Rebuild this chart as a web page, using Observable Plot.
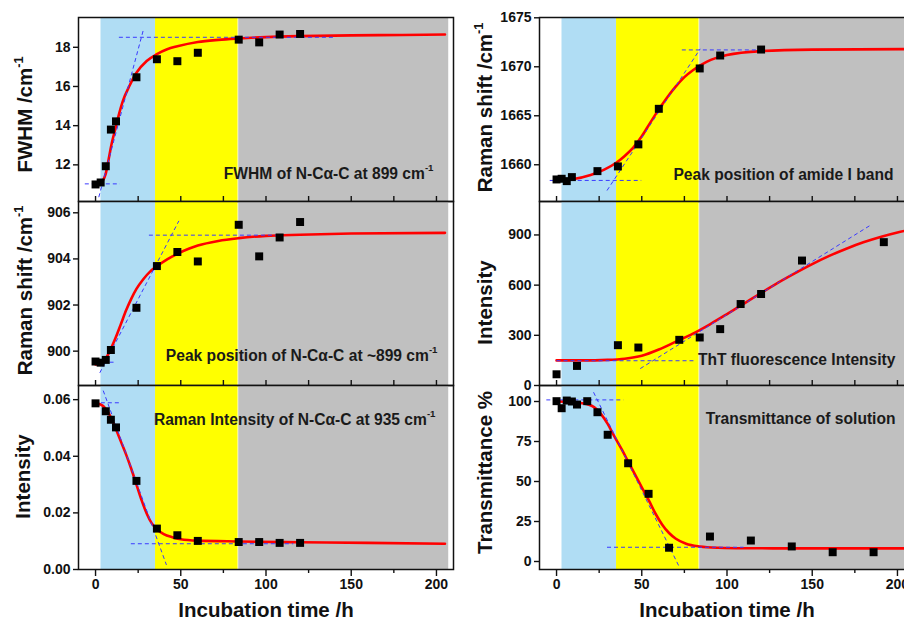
<!DOCTYPE html>
<html>
<head>
<meta charset="utf-8">
<script src="https://cdn.jsdelivr.net/npm/d3@7"></script>
<script src="https://cdn.jsdelivr.net/npm/@observablehq/plot@0.6"></script>
<style>
  html, body { margin: 0; padding: 0; background: white; width: 904px; height: 621px; overflow: hidden; }
  #wrap { position: relative; width: 904px; height: 621px; }
</style>
</head>
<body>
<div id="wrap"></div>
<script>
// ---------- shared ----------
const xTicksMajor = [0, 50, 100, 150, 200];
const xTicksMinor = [25, 75, 125, 175];
const xTicksAll = [0, 25, 50, 75, 100, 125, 150, 175, 200];
const bandStart = [3.2, 35.2, 84.0];
const bandEnd = [35.2, 83.6, 207.2];
const bandColor = ["#b0ddf4", "#ffff00", "#c0c0c0"];
const xTitle = "Incubation time /h";

// ---------- Panel A: FWHM ----------
const fwhmT = [0, 3, 6, 9, 12, 24, 36, 48, 60, 84, 96, 108, 120];
const fwhmV = [11.0, 11.1, 11.93, 13.8, 14.22, 16.47, 17.39, 17.29, 17.72, 18.39, 18.25, 18.65, 18.68];
const fwhmFitT = [0, 2, 4, 6, 7.5, 9.5, 11.5, 13.5, 16, 20, 24, 30, 36, 42, 48, 60, 72, 84, 100, 120, 150, 180, 205];
const fwhmFitV = [10.98, 11.02, 11.15, 11.55, 12.2, 13.1, 13.8, 14.5, 15.25, 16.05, 16.7, 17.3, 17.65, 17.9, 18.05, 18.27, 18.38, 18.45, 18.52, 18.57, 18.61, 18.63, 18.65];
const fwhmGuideT1 = [-6.3, 13.7, 1.9];
const fwhmGuideT2 = [14.3, 141, 28.3];
const fwhmGuideV1 = [11.03, 18.51, 10.35];
const fwhmGuideV2 = [11.03, 18.51, 18.97];
const fwhmTicks = [12, 14, 16, 18];

// ---------- Panel B: Raman shift of N-Ca-C ----------
const shiftT = [0, 3, 6, 9, 24, 36, 48, 60, 84, 96, 108, 120];
const shiftV = [899.55, 899.5, 899.62, 900.05, 901.88, 903.69, 904.3, 903.89, 905.48, 904.11, 904.93, 905.6];
const shiftFitT = [0, 3, 6, 9, 12, 15, 18, 21, 24, 28, 32, 36, 42, 48, 55, 60, 72, 84, 100, 120, 150, 205];
const shiftFitV = [899.42, 899.45, 899.68, 900.1, 900.62, 901.2, 901.78, 902.28, 902.7, 903.12, 903.45, 903.68, 903.98, 904.22, 904.45, 904.58, 904.78, 904.9, 905.0, 905.05, 905.1, 905.13];
const shiftGuideT1 = [0, 31.3, 2.5];
const shiftGuideT2 = [12.3, 109.7, 48.9];
const shiftGuideV1 = [899.52, 905.03, 899.06];
const shiftGuideV2 = [899.52, 905.03, 905.65];
const shiftTicks = [900, 902, 904, 906];

// ---------- Panel C: Raman intensity at 935 ----------
const intT = [0, 6, 9, 12, 24, 36, 48, 60, 84, 96, 108, 120];
const intV = [0.0587, 0.0559, 0.0529, 0.0502, 0.0313, 0.01445, 0.0121, 0.0101, 0.0097, 0.0097, 0.0094, 0.0094];
const intFitT = [0, 3, 6, 9, 12, 15, 18, 21, 24, 27, 30, 33, 36, 40, 45, 50, 60, 84, 120, 160, 205];
const intFitV = [0.0587, 0.0583, 0.0568, 0.0538, 0.0495, 0.045, 0.0405, 0.0355, 0.03, 0.0245, 0.0198, 0.0163, 0.0142, 0.0125, 0.0114, 0.0107, 0.0102, 0.0099, 0.0096, 0.0094, 0.0091];
const intGuideT1 = [-1, 20.7, 4.5];
const intGuideT2 = [14.3, 116, 41.6];
const intGuideV1 = [0.0589, 0.0091, 0.0632];
const intGuideV2 = [0.0589, 0.0091, 0.0016];
const intTicks = [0, 0.02, 0.04, 0.06];

// ---------- Panel D: amide I ----------
const amT = [0, 3, 6, 9, 24, 36, 48, 60, 84, 96, 120];
const amV = [1658.5, 1658.57, 1658.33, 1658.74, 1659.35, 1659.83, 1662.08, 1665.71, 1669.83, 1671.15, 1671.76];
const amFitT = [0, 10, 20, 28, 35, 40, 45, 50, 55, 60, 65, 70, 75, 80, 88, 100, 120, 150, 205];
const amFitV = [1658.45, 1658.55, 1658.95, 1659.5, 1660.2, 1660.9, 1661.75, 1662.9, 1664.3, 1665.65, 1666.9, 1668.0, 1668.95, 1669.65, 1670.5, 1671.2, 1671.6, 1671.75, 1671.8];
const amGuideT1 = [-4, 73.5, 29.6];
const amGuideT2 = [49.7, 120.5, 84.3];
const amGuideV1 = [1658.4, 1671.72, 1657.37];
const amGuideV2 = [1658.4, 1671.72, 1671.83];
const amTicks = [1660, 1665, 1670, 1675];

// ---------- Panel E: ThT fluorescence ----------
const thtT = [0, 12, 36, 48, 72, 84, 96, 108, 120, 144, 192];
const thtV = [67, 117, 241, 227, 273, 287, 337, 487, 547, 747, 857];
const thtFitT = [0, 15, 30, 40, 50, 60, 70, 80, 90, 100, 110, 120, 130, 140, 150, 160, 170, 180, 190, 200, 208];
const thtFitV = [150, 150, 153, 160, 178, 215, 262, 310, 366, 427, 490, 553, 615, 672, 726, 775, 818, 856, 888, 915, 933];
const thtGuideT1 = [0, 49.1];
const thtGuideT2 = [80.3, 184.6];
const thtGuideV1 = [148, 101];
const thtGuideV2 = [148, 961];
const thtTicks = [0, 300, 600, 900];

// ---------- Panel F: Transmittance ----------
const trT = [0, 3, 6, 9, 12, 18, 24, 30, 42, 54, 66, 90, 114, 138, 162, 186];
const trV = [100.2, 95.8, 100.6, 100, 98.1, 100.2, 93.3, 79.2, 61.4, 42.3, 8.6, 15.6, 13.1, 9.4, 5.8, 5.8];
const trFitT = [0, 6, 12, 18, 22, 26, 30, 34, 38, 42, 46, 50, 54, 58, 62, 66, 70, 76, 84, 95, 110, 140, 208];
const trFitV = [100, 99.9, 99.4, 98.3, 96.5, 92.3, 86, 78, 70.5, 62.5, 54.5, 46.4, 38.5, 30, 23, 17.8, 14.2, 11.1, 9.4, 8.6, 8.3, 8.2, 8.2];
const trGuideT1 = [-6, 29.6, 21.7];
const trGuideT2 = [39.3, 109.7, 71.6];
const trGuideV1 = [101, 8.9, 105.8];
const trGuideV2 = [101, 8.9, -2.5];
const trTicks = [0, 25, 50, 75, 100];

// ---------- helpers ----------
const zip = (ts, vs) => ts.map((t, i) => ({t, v: vs[i]}));
const segs = (a1, a2, b1, b2) => a1.map((_, i) => ({x1: a1[i], x2: a2[i], y1: b1[i], y2: b2[i], k: i}));
const FONT = "'Liberation Sans', Arial, Helvetica, sans-serif";
const wrap = document.getElementById("wrap");

function superscript(svg) {
  d3.select(svg).selectAll("text").each(function () {
    const t = this.textContent;
    if (t.includes("⁻¹") && this.children.length === 0) {
      const main = t.replace("⁻¹", "");
      const el = d3.select(this);
      el.text(main);
      el.append("tspan").attr("font-size", "0.62em").attr("dy", "-0.75em").text("-1");
    }
  });
}

function panel(c) {
  const mt = 8, mb = c.bottom ? 60 : 8, ml = 78, mr = 10, fh = 184, fw = 375;
  const bands = bandStart.map((s, i) => ({x1: s, x2: bandEnd[i], fill: bandColor[i]}));
  const marks = [
    ...bands.map(b => Plot.rect([b], {x1: "x1", x2: "x2", fill: b.fill})),
    Plot.line(zip(c.fitT, c.fitV), {x: "t", y: "v", stroke: "#ff0000", strokeWidth: 2.6, curve: "monotone-x"}),
    Plot.link(c.guides, {x1: "x1", x2: "x2", y1: "y1", y2: "y2", stroke: "#3a3aff", strokeWidth: 1, strokeDasharray: "4,3"}),
    Plot.dot(zip(c.t, c.v), {x: "t", y: "v", symbol: "square", r: 4.5, fill: "#000"}),
    Plot.frame({stroke: "#111", strokeWidth: 1.5}),
    Plot.axisY({ticks: c.yTicks, tickFormat: c.yFmt, tickSize: 5, tickPadding: 3, label: null, strokeWidth: 1.4, fontSize: 14}),
    Plot.text([c.yLabel], {text: d => d, frameAnchor: "left", dx: c.yLabelDx, dy: c.yLabelDy, rotate: -90, textAnchor: "middle", lineAnchor: "middle", fontSize: 20.5}),
    Plot.text([c.note], {text: d => d, frameAnchor: c.noteAnchor, dx: c.noteDx, dy: c.noteDy, textAnchor: "end", lineAnchor: "middle", fontSize: 15.6, fill: "#1a1a1a"})
  ];
  if (c.bottom) {
    marks.push(
      Plot.axisX({ticks: xTicksMajor, tickSize: 7, tickPadding: 3, label: null, strokeWidth: 1.4, fontSize: 14}),
      Plot.axisX({ticks: xTicksMinor, tickSize: 4, tickFormat: () => "", label: null, strokeWidth: 1.4}),
      Plot.text([xTitle], {text: d => d, frameAnchor: "bottom", dy: 41, lineAnchor: "middle", fontSize: 20.5})
    );
  }
  if (c.topTicks) {
    // ticks on the shared border, pointing up into the panel above
    marks.push(
      Plot.axisX({anchor: "top", ticks: xTicksAll, tickSize: 6, tickFormat: () => "", label: null, strokeWidth: 1.4})
    );
  }
  const svg = Plot.plot({
    width: ml + fw + mr,
    height: mt + fh + mb,
    marginLeft: ml, marginRight: mr, marginTop: mt, marginBottom: mb,
    x: {domain: [-10, 210], axis: null},
    y: {domain: c.yDomain, axis: null},
    style: {fontFamily: FONT, fontWeight: "bold", fontSize: "14px", background: "transparent", overflow: "visible", maxWidth: "none", color: "#111"},
    marks
  });
  superscript(svg);
  svg.style.position = "absolute";
  svg.style.left = c.left + "px";
  svg.style.top = (c.top - mt) + "px";
  wrap.appendChild(svg);
}

const L = 0, R = 461;
panel({left: L, top: 17, yDomain: [10.13, 19.52], yTicks: fwhmTicks, yFmt: d3.format("d"),
  yLabel: "FWHM /cm⁻¹", yLabelDx: -53, yLabelDy: 5,
  t: fwhmT, v: fwhmV, fitT: fwhmFitT, fitV: fwhmFitV,
  guides: segs(fwhmGuideT1, fwhmGuideT2, fwhmGuideV1, fwhmGuideV2),
  note: "FWHM of N-Cα-C at 899 cm⁻¹", noteAnchor: "bottom-right", noteDx: -20, noteDy: -28});
panel({left: L, top: 201, yDomain: [898.51, 906.49], yTicks: shiftTicks, yFmt: d3.format("d"),
  yLabel: "Raman shift /cm⁻¹", yLabelDx: -53, yLabelDy: -3,
  t: shiftT, v: shiftV, fitT: shiftFitT, fitV: shiftFitV,
  guides: segs(shiftGuideT1, shiftGuideT2, shiftGuideV1, shiftGuideV2),
  note: "Peak position of N-Cα-C at ~899 cm⁻¹", noteAnchor: "bottom-right", noteDx: -16, noteDy: -30, topTicks: true});
panel({left: L, top: 385, yDomain: [0, 0.065], yTicks: intTicks, yFmt: d3.format(".2f"),
  yLabel: "Intensity", yLabelDx: -55, yLabelDy: -1,
  t: intT, v: intV, fitT: intFitT, fitV: intFitV,
  guides: segs(intGuideT1, intGuideT2, intGuideV1, intGuideV2),
  note: "Raman Intensity of N-Cα-C at 935 cm⁻¹", noteAnchor: "top-right", noteDx: -18, noteDy: 34, bottom: true, topTicks: true});
panel({left: R, top: 17, yDomain: [1656.25, 1675.03], yTicks: amTicks, yFmt: d3.format("d"),
  yLabel: "Raman shift /cm⁻¹", yLabelDx: -54, yLabelDy: -2,
  t: amT, v: amV, fitT: amFitT, fitV: amFitV,
  guides: segs(amGuideT1, amGuideT2, amGuideV1, amGuideV2),
  note: "Peak position of amide I band", noteAnchor: "bottom-right", noteDx: -21, noteDy: -27});
panel({left: R, top: 201, yDomain: [0, 1100], yTicks: thtTicks, yFmt: d3.format("d"),
  yLabel: "Intensity", yLabelDx: -54, yLabelDy: 9,
  t: thtT, v: thtV, fitT: thtFitT, fitV: thtFitV,
  guides: segs(thtGuideT1, thtGuideT2, thtGuideV1, thtGuideV2),
  note: "ThT fluorescence Intensity", noteAnchor: "bottom-right", noteDx: -19, noteDy: -26, topTicks: true});
panel({left: R, top: 385, yDomain: [-5, 110], yTicks: trTicks, yFmt: d3.format("d"),
  yLabel: "Transmittance %", yLabelDx: -54, yLabelDy: -5,
  t: trT, v: trV, fitT: trFitT, fitV: trFitV,
  guides: segs(trGuideT1, trGuideT2, trGuideV1, trGuideV2),
  note: "Transmittance of solution", noteAnchor: "top-right", noteDx: -19, noteDy: 33, bottom: true, topTicks: true});
</script>
</body>
</html>
